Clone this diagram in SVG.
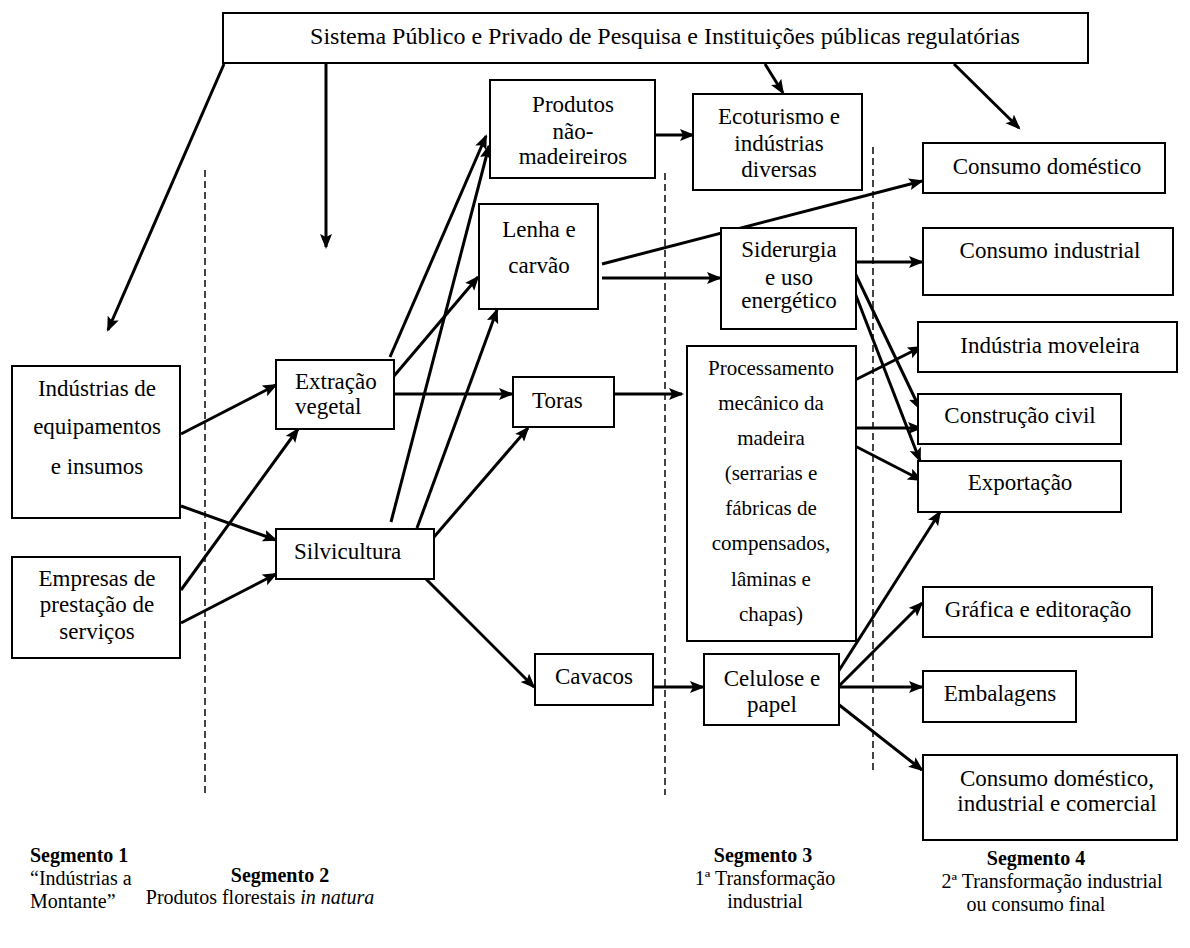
<svg xmlns="http://www.w3.org/2000/svg" width="1190" height="948" viewBox="0 0 1190 948" font-family="'Liberation Serif', 'Times New Roman', serif">
<defs>
<marker id="ah" markerUnits="userSpaceOnUse" markerWidth="16" markerHeight="14" refX="13" refY="6" orient="auto">
<path d="M0,0 L15,6 L0,12 L3,6 z" fill="#000"/>
</marker>
<style>
.box{fill:#fff;stroke:#000;stroke-width:2}
.t{font-family:"Liberation Serif","Times New Roman",serif;font-size:23px;fill:#000;text-anchor:middle}
.s{font-size:21px}
.ttl{font-size:24px}
.l{text-anchor:start}
.c{stroke:#000;stroke-width:3;fill:none;marker-end:url(#ah)}
.d{stroke:#444;stroke-width:2;stroke-dasharray:7 4;fill:none}
.b{font-family:"Liberation Serif","Times New Roman",serif;font-size:20px;fill:#000;text-anchor:middle}
.bl{text-anchor:start}
.bold{font-weight:bold}
</style>
</defs>
<rect width="1190" height="948" fill="#fff"/>
<g id="dividers">
<line class="d" x1="205" y1="170" x2="205" y2="795"/>
<line class="d" x1="665" y1="173" x2="665" y2="795"/>
<line class="d" x1="873" y1="147" x2="873" y2="770"/>
</g>
<g id="connectors">
<line class="c" x1="224" y1="64" x2="108" y2="330"/>
<line class="c" x1="326" y1="64" x2="326" y2="247"/>
<line class="c" x1="765" y1="64" x2="783" y2="93"/>
<line class="c" x1="954" y1="64" x2="1019" y2="128"/>
<line class="c" x1="655" y1="135" x2="693" y2="135"/>
<line class="c" x1="602" y1="264" x2="922" y2="181"/>
<line class="c" x1="602" y1="278" x2="720" y2="278"/>
<line class="c" x1="856" y1="262" x2="922" y2="262"/>
<line class="c" x1="855" y1="273" x2="920" y2="409"/>
<line class="c" x1="855" y1="293" x2="920" y2="461"/>
<line class="c" x1="855" y1="380" x2="921" y2="347"/>
<line class="c" x1="855" y1="428" x2="921" y2="428"/>
<line class="c" x1="855" y1="446" x2="921" y2="480"/>
<line class="c" x1="181" y1="434" x2="276" y2="385"/>
<line class="c" x1="181" y1="506" x2="276" y2="540"/>
<line class="c" x1="181" y1="590" x2="298" y2="429"/>
<line class="c" x1="181" y1="623" x2="276" y2="574"/>
<line class="c" x1="390" y1="357" x2="486" y2="136"/>
<line class="c" x1="394" y1="376" x2="478" y2="277"/>
<line class="c" x1="394" y1="394" x2="512" y2="394"/>
<line class="c" x1="391" y1="522" x2="489" y2="146"/>
<line class="c" x1="417" y1="528" x2="497" y2="310"/>
<line class="c" x1="434" y1="537" x2="528" y2="428"/>
<line class="c" x1="426" y1="579" x2="534" y2="687"/>
<line class="c" x1="614" y1="394" x2="682" y2="394"/>
<line class="c" x1="653" y1="687" x2="703" y2="687"/>
<line class="c" x1="838" y1="672" x2="940" y2="512"/>
<line class="c" x1="838" y1="687" x2="922" y2="603"/>
<line class="c" x1="838" y1="687" x2="922" y2="687"/>
<line class="c" x1="838" y1="704" x2="922" y2="770"/>
</g>
<g id="sistema">
<rect class="box" x="223" y="13" width="865" height="50"/>
<text class="t ttl" x="665" y="44">Sistema Público e Privado de Pesquisa e Instituições públicas regulatórias</text>
</g>
<g id="produtos">
<rect class="box" x="490" y="80" width="165" height="98"/>
<text class="t" x="573" y="112">Produtos</text>
<text class="t" x="573" y="139">não-</text>
<text class="t" x="573" y="164">madeireiros</text>
</g>
<g id="ecoturismo">
<rect class="box" x="693" y="94" width="169" height="96"/>
<text class="t" x="779" y="124">Ecoturismo e</text>
<text class="t" x="779" y="151">indústrias</text>
<text class="t" x="779" y="177">diversas</text>
</g>
<g id="lenha">
<rect class="box" x="479" y="204" width="119" height="105"/>
<text class="t" x="539" y="237">Lenha e</text>
<text class="t" x="539" y="273">carvão</text>
</g>
<g id="consumo-domestico">
<rect class="box" x="923" y="143" width="242" height="50"/>
<text class="t" x="1047" y="174">Consumo doméstico</text>
</g>
<g id="siderurgia">
<rect class="box" x="721" y="228" width="135" height="101"/>
<text class="t" x="789" y="257">Siderurgia</text>
<text class="t" x="789" y="285">e uso</text>
<text class="t" x="789" y="308">energético</text>
</g>
<g id="consumo-industrial">
<rect class="box" x="923" y="228" width="250" height="67"/>
<text class="t" x="1050" y="258">Consumo industrial</text>
</g>
<g id="industria-moveleira">
<rect class="box" x="918" y="322" width="259" height="50"/>
<text class="t" x="1050" y="353">Indústria moveleira</text>
</g>
<g id="construcao-civil">
<rect class="box" x="918" y="394" width="203" height="50"/>
<text class="t" x="1020" y="423">Construção civil</text>
</g>
<g id="exportacao">
<rect class="box" x="918" y="461" width="203" height="51"/>
<text class="t" x="1020" y="490">Exportação</text>
</g>
<g id="industrias-equipamentos">
<rect class="box" x="12" y="366" width="168" height="152"/>
<text class="t" x="97" y="396">Indústrias de</text>
<text class="t" x="97" y="434">equipamentos</text>
<text class="t" x="97" y="474">e insumos</text>
</g>
<g id="empresas-servicos">
<rect class="box" x="12" y="557" width="168" height="101"/>
<text class="t" x="97" y="586">Empresas de</text>
<text class="t" x="97" y="612">prestação de</text>
<text class="t" x="97" y="639">serviços</text>
</g>
<g id="extracao">
<rect class="box" x="276" y="360" width="118" height="69"/>
<text class="t l" x="295" y="389">Extração</text>
<text class="t l" x="295" y="414">vegetal</text>
</g>
<g id="silvicultura">
<rect class="box" x="276" y="529" width="158" height="50"/>
<text class="t l" x="294" y="559">Silvicultura</text>
</g>
<g id="toras">
<rect class="box" x="513" y="377" width="101" height="50"/>
<text class="t l" x="532" y="408">Toras</text>
</g>
<g id="processamento">
<rect class="box" x="687" y="346" width="169" height="295"/>
<text class="t s" x="771" y="375">Processamento</text>
<text class="t s" x="771" y="410">mecânico da</text>
<text class="t s" x="771" y="445">madeira</text>
<text class="t s" x="771" y="480">(serrarias e</text>
<text class="t s" x="771" y="515">fábricas de</text>
<text class="t s" x="771" y="550">compensados,</text>
<text class="t s" x="771" y="586">lâminas e</text>
<text class="t s" x="771" y="621">chapas)</text>
</g>
<g id="cavacos">
<rect class="box" x="535" y="654" width="118" height="51"/>
<text class="t" x="594" y="684">Cavacos</text>
</g>
<g id="celulose">
<rect class="box" x="704" y="654" width="135" height="71"/>
<text class="t" x="772" y="686">Celulose e</text>
<text class="t" x="772" y="712">papel</text>
</g>
<g id="grafica">
<rect class="box" x="923" y="587" width="229" height="50"/>
<text class="t" x="1038" y="617">Gráfica e editoração</text>
</g>
<g id="embalagens">
<rect class="box" x="923" y="671" width="153" height="51"/>
<text class="t" x="1000" y="701">Embalagens</text>
</g>
<g id="consumo-final">
<rect class="box" x="923" y="755" width="254" height="85"/>
<text class="t" x="1057" y="786">Consumo doméstico,</text>
<text class="t" x="1057" y="811">industrial e comercial</text>
</g>
<g id="legend">
<text class="b bl bold" x="30" y="862">Segmento 1</text>
<text class="b bl" x="30" y="885">“Indústrias a</text>
<text class="b bl" x="30" y="908">Montante”</text>
<text class="b bold" x="280" y="882">Segmento 2</text>
<text class="b" x="260" y="904">Produtos florestais <tspan font-style="italic">in natura</tspan></text>
<text class="b bold" x="763" y="862">Segmento 3</text>
<text class="b" x="765" y="885">1ª Transformação</text>
<text class="b" x="765" y="908">industrial</text>
<text class="b bold" x="1036" y="865">Segmento 4</text>
<text class="b" x="1052" y="888">2ª Transformação industrial</text>
<text class="b" x="1036" y="911">ou consumo final</text>
</g>
</svg>
